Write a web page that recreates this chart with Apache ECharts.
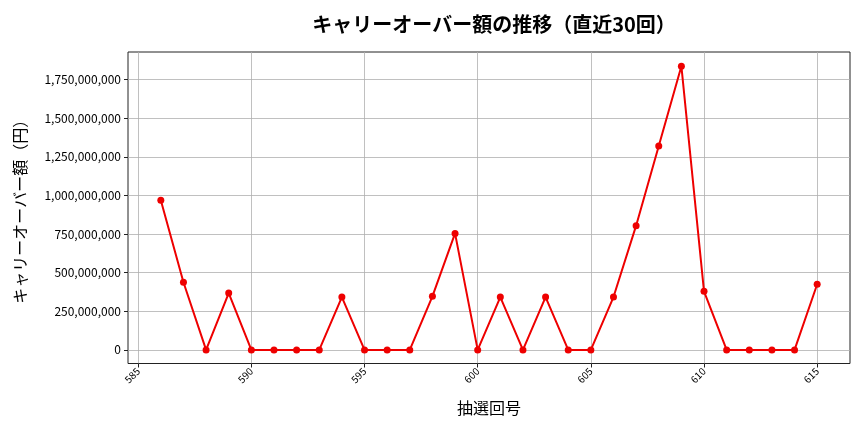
<!DOCTYPE html>
<html><head><meta charset="utf-8">
<script src="https://cdn.jsdelivr.net/npm/echarts@6/dist/echarts.min.js"></script>
<style>html,body{margin:0;padding:0;background:#fff}#c{width:864px;height:432px}</style>
</head><body><div id="c"></div>
<script>
const draws = [586,587,588,589,590,591,592,593,594,595,596,597,598,599,600,601,602,603,604,605,606,607,608,609,610,611,612,613,614,615];
const carryover = [968000000,438000000,0,368000000,0,0,0,0,342000000,0,0,0,347000000,754000000,0,342000000,0,342000000,0,0,342000000,804000000,1320000000,1836000000,379000000,0,0,0,0,425000000];
const xTicks = [585,590,595,600,605,610,615];
const yTicks = [0,250000000,500000000,750000000,1000000000,1250000000,1500000000,1750000000];
const titleText = 'キャリーオーバー額の推移（直近30回）';
const xName = '抽選回号';
const yName = 'キャリーオーバー額（円）';

const font = '"Noto Sans CJK JP", "Noto Sans", sans-serif';
const chart = echarts.init(document.getElementById('c'));
chart.setOption({
  animation: false,
  title: {text: titleText, left: 489, textAlign: 'center', top: 9, textStyle: {fontFamily: font, fontSize: 20, fontWeight: 'bold', color: '#000'}},
  grid: {left: 128, right: 14, top: 52, bottom: 68.5, show: true, borderColor: '#222', borderWidth: 1, backgroundColor: 'transparent'},
  xAxis: {
    type: 'value', min: 584.55, max: 616.45,
    name: xName, nameLocation: 'middle', nameGap: 36,
    nameTextStyle: {fontFamily: font, fontSize: 16, color: '#000'},
    axisLine: {show: false, onZero: false},
    axisTick: {show: true, length: 4, lineStyle: {color: '#222'}, customValues: xTicks},
    axisLabel: {customValues: xTicks, rotate: 45, fontSize: 10, color: '#000', fontFamily: font, margin: 6},
    splitLine: {show: true, lineStyle: {color: '#b0b0b0', width: 0.8}}
  },
  yAxis: {
    type: 'value', min: -88000000, max: 1928000000,
    name: yName, nameLocation: 'middle', nameGap: 100,
    nameTextStyle: {fontFamily: font, fontSize: 16, color: '#000'},
    axisLine: {show: false, onZero: false},
    axisTick: {show: true, length: 4, lineStyle: {color: '#222'}, customValues: yTicks},
    axisLabel: {customValues: yTicks, fontSize: 12, color: '#000', fontFamily: font, margin: 7,
      formatter: v => Math.round(v).toLocaleString('en-US')},
    splitLine: {show: true, lineStyle: {color: '#b0b0b0', width: 0.8}}
  },
  series: [{
    type: 'line', data: draws.map((d, i) => [d, carryover[i]]),
    symbol: 'circle', symbolSize: 7,
    lineStyle: {color: '#ee0000', width: 2}, itemStyle: {color: '#ee0000'}
  }]
});
</script></body></html>
